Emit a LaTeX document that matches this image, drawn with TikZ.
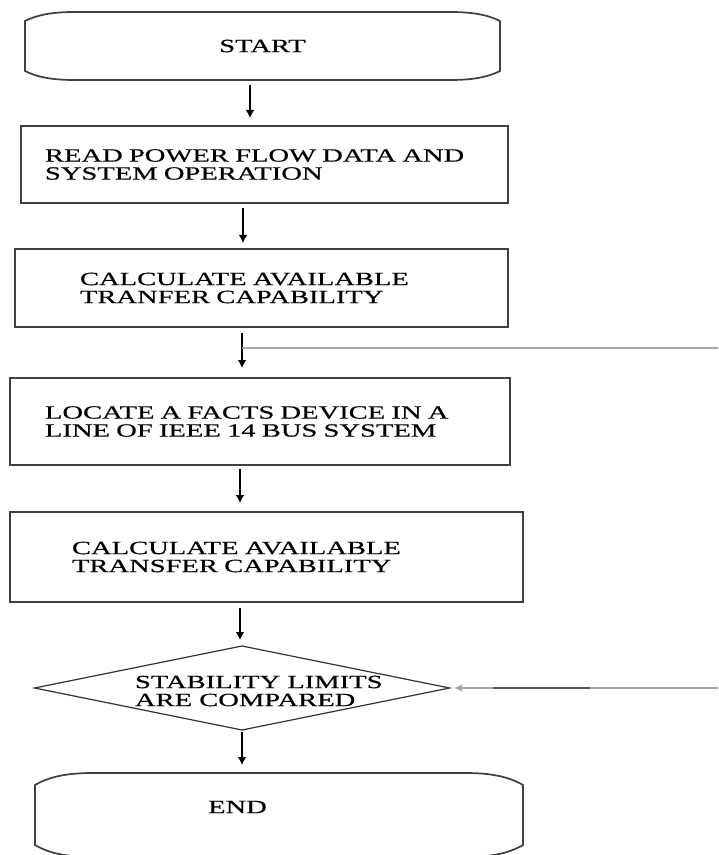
\documentclass[tikz,border=0pt]{standalone}
\usepackage{fontspec}
\newfontfamily\diagfont[FakeStretch=1.53, FakeBold=0.6]{Liberation Serif}
\usetikzlibrary{arrows.meta,calc,shapes.geometric}
\newcommand\termoutline[3]{%
 \draw[boxline]
  ($(#1.north west)+(0,#3)$) .. controls ($(#1.north west)+(0.25*#2,0.3*#3)$) and ($(#1.north west)+(0.55*#2,0)$) .. ($(#1.north west)+(#2,0)$)
  -- ($(#1.north east)+(-#2,0)$) .. controls ($(#1.north east)+(-0.55*#2,0)$) and ($(#1.north east)+(-0.25*#2,0.3*#3)$) .. ($(#1.north east)+(0,#3)$)
  -- ($(#1.south east)+(0,-#3)$) .. controls ($(#1.south east)+(-0.25*#2,-0.3*#3)$) and ($(#1.south east)+(-0.55*#2,0)$) .. ($(#1.south east)+(-#2,0)$)
  -- ($(#1.south west)+(#2,0)$) .. controls ($(#1.south west)+(0.55*#2,0)$) and ($(#1.south west)+(0.25*#2,-0.3*#3)$) .. ($(#1.south west)+(0,-#3)$)
  -- cycle;}
\begin{document}
\begin{tikzpicture}[x=0.75pt,y=-0.75pt,
  every node/.style={font=\diagfont\fontsize{14pt}{13.5pt}\selectfont, outer sep=0pt},
  boxline/.style={draw=black!75, line width=1.3pt},
  procbox/.style={rectangle, boxline, align=left},
  termbox/.style={rectangle, draw=none, inner sep=0pt},
  decbox/.style={diamond, draw=black!80, line width=0.9pt, inner sep=0pt},
  lbl/.style={inner sep=0pt, align=left},
  arr/.style={draw=black, line width=1.1pt, -{Latex[length=6pt,width=6.5pt]}},
  fbline/.style={draw=black!35, line width=0.8pt},
  fbarr/.style={draw=black!35, line width=0.8pt, -{Latex[length=6pt,width=5.5pt]}},
  fbdark/.style={draw=black!65, line width=0.9pt}]
\useasboundingbox (0,0) rectangle (718,855);

% nodes
\node[termbox, minimum width=356.25pt, minimum height=51pt] (start) at (262.5,46) {START};
\termoutline{start}{50}{9}

\node[procbox, minimum width=365.25pt, minimum height=57.75pt, inner xsep=18pt, text width=329.25pt]
  (read) at (264.5,164.5) {READ POWER FLOW DATA AND\\SYSTEM OPERATION};

\node[procbox, minimum width=369.75pt, minimum height=58.5pt, inner xsep=48.75pt, text width=272.25pt]
  (atc1) at (261.5,288) {CALCULATE AVAILABLE\\TRANFER CAPABILITY};

\node[procbox, minimum width=375pt, minimum height=65.25pt, inner xsep=26.25pt, text width=322.5pt]
  (facts) at (260,421.5) {LOCATE A FACTS DEVICE IN A\\LINE OF IEEE 14 BUS SYSTEM};

\node[procbox, minimum width=384.75pt, minimum height=67.5pt, inner xsep=46.5pt, text width=291.75pt]
  (atc2) at (266.5,557) {CALCULATE AVAILABLE\\TRANSFER CAPABILITY};

\node[decbox, minimum width=311.25pt, minimum height=63pt] (dia) at (242,688) {};
\node[lbl, anchor=west] (diatxt) at (135,691) {STABILITY LIMITS\\ARE COMPARED};

\node[termbox, minimum width=366pt, minimum height=63pt] (end) at (279,815) {};
\termoutline{end}{58}{12}
\node[lbl] (endtxt) at (237.5,807) {END};

% arrow columns
\coordinate (x1) at (250,0);
\coordinate (x2) at (243,0);
\coordinate (x3) at (242,0);
\coordinate (x4) at (240,0);
\coordinate (x5) at (240,0);
\coordinate (x6) at (242,0);

\draw[arr, shorten <=3.75pt, shorten >=6pt] (start.south -| x1) -- (read.north -| x1);
\draw[arr, shorten <=3.75pt, shorten >=4.5pt] (read.south -| x2) -- (atc1.north -| x2);
\draw[arr, shorten <=4.5pt, shorten >=7.5pt] (atc1.south -| x3) -- (facts.north -| x3);
\draw[arr, shorten <=3pt, shorten >=6.75pt] (facts.south -| x4) -- (atc2.north -| x4);
\draw[arr, shorten <=4.5pt, shorten >=4.5pt] (atc2.south -| x5) -- (dia.north -| x5);
\draw[arr, shorten <=1.5pt, shorten >=6pt] (dia.south -| x6) -- (end.north -| x6);

% feedback lines
\coordinate (j3) at (242,348);
\coordinate (fbtop) at (718,348);
\draw[fbline] (j3) -- (fbtop);

\coordinate (fbbot) at (718,688);
\draw[fbarr, shorten >=3.5pt] (fbbot) -- (dia.east);
\coordinate (d1) at (493,688);
\coordinate (d2) at (590,688);
\draw[fbdark] (d1) -- (d2);
\end{tikzpicture}
\end{document}
